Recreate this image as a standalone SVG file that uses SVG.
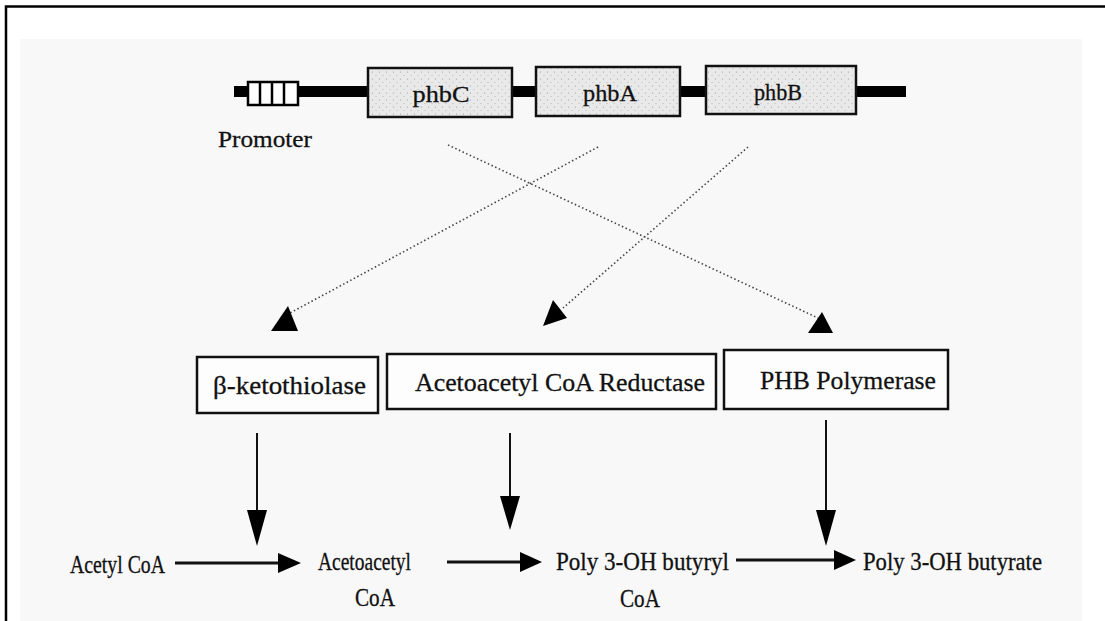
<svg xmlns="http://www.w3.org/2000/svg" width="1105" height="621" viewBox="0 0 1105 621">
  <style>
    .txt { font-family: "Liberation Serif", "Times New Roman", serif; fill: #111; stroke: #111; stroke-width: 0.3; }
    .gene { stroke: #111; stroke-width: 2.5; }
    .enz { fill: #fdfdfd; stroke: #111; stroke-width: 2.5; }
    .dot { fill: none; stroke: #444; stroke-width: 1.6; stroke-dasharray: 1.5 2.5; }
    .solid { fill: none; stroke: #111; }
    .head { fill: #000; }
  </style>
  <defs>
    <pattern id="stipple" width="7" height="7" patternUnits="userSpaceOnUse">
      <rect width="7" height="7" fill="#e9e9e9"/>
      <circle cx="1.5" cy="2" r="0.6" fill="#9a9a9a"/>
      <circle cx="5" cy="5.5" r="0.5" fill="#aaaaaa"/>
    </pattern>
  </defs>

  <!-- page and frame -->
  <rect width="1105" height="621" fill="#ffffff"/>
  <rect x="20" y="39" width="1062" height="582" fill="#f8f8f8"/>
  <path d="M6 621 V6.5 H1105" fill="none" stroke="#000" stroke-width="2.5"/>

  <!-- operon backbone -->
  <g id="operon">
    <rect x="234" y="86" width="672" height="11" fill="#000"/>
    <g id="promoter">
      <rect x="248" y="82" width="50" height="23" fill="#fff" stroke="#000" stroke-width="2.5"/>
      <line x1="260" y1="82" x2="260" y2="105" stroke="#000" stroke-width="2.5"/>
      <line x1="272" y1="82" x2="272" y2="105" stroke="#000" stroke-width="2.5"/>
      <line x1="284" y1="82" x2="284" y2="105" stroke="#000" stroke-width="2.5"/>
      <text class="txt" x="218" y="147" font-size="24" textLength="94" lengthAdjust="spacingAndGlyphs">Promoter</text>
    </g>
  </g>

  <g id="phbC">
    <rect class="gene" x="368" y="68" width="144" height="49" fill="url(#stipple)"/>
    <text class="txt" x="441" y="102" font-size="24" text-anchor="middle" textLength="57" lengthAdjust="spacingAndGlyphs">phbC</text>
  </g>
  <g id="phbA">
    <rect class="gene" x="536" y="67" width="144" height="49" fill="url(#stipple)"/>
    <text class="txt" x="610" y="101" font-size="24" text-anchor="middle" textLength="54" lengthAdjust="spacingAndGlyphs">phbA</text>
  </g>
  <g id="phbB">
    <rect class="gene" x="706" y="66" width="150" height="48" fill="url(#stipple)"/>
    <text class="txt" x="778" y="100" font-size="24" text-anchor="middle" textLength="48" lengthAdjust="spacingAndGlyphs">phbB</text>
  </g>

  <!-- enzymes -->
  <g id="ketothiolase">
    <rect class="enz" x="197" y="357" width="181" height="56"/>
    <text class="txt" x="213" y="394" font-size="26" textLength="153" lengthAdjust="spacingAndGlyphs">β-ketothiolase</text>
  </g>
  <g id="reductase">
    <rect class="enz" x="387" y="354" width="329" height="55"/>
    <text class="txt" x="415" y="391" font-size="26" textLength="290" lengthAdjust="spacingAndGlyphs">Acetoacetyl CoA Reductase</text>
  </g>
  <g id="polymerase">
    <rect class="enz" x="724" y="350" width="224" height="59"/>
    <text class="txt" x="760" y="389" font-size="26" textLength="176" lengthAdjust="spacingAndGlyphs">PHB Polymerase</text>
  </g>

  <!-- metabolites -->
  <g id="acetylcoa">
    <text class="txt" x="70" y="573" font-size="25" textLength="95" lengthAdjust="spacingAndGlyphs">Acetyl CoA</text>
  </g>
  <g id="acetoacetylcoa">
    <text class="txt" x="318" y="570" font-size="25" textLength="93" lengthAdjust="spacingAndGlyphs">Acetoacetyl</text>
    <text class="txt" x="355" y="606" font-size="25" textLength="40" lengthAdjust="spacingAndGlyphs">CoA</text>
  </g>
  <g id="butyrylcoa">
    <text class="txt" x="556" y="570" font-size="25" textLength="173" lengthAdjust="spacingAndGlyphs">Poly 3-OH butyryl</text>
    <text class="txt" x="620" y="607" font-size="25" textLength="40" lengthAdjust="spacingAndGlyphs">CoA</text>
  </g>
  <g id="butyrate">
    <text class="txt" x="863" y="570" font-size="25" textLength="179" lengthAdjust="spacingAndGlyphs">Poly 3-OH butyrate</text>
  </g>

  <!-- connectors -->
  <g id="connectors">
    <!-- gene to enzyme, dotted -->
    <line class="dot" x1="448" y1="145" x2="818" y2="318"/>
    <polygon class="head" points="808,333 833,333 822,312"/>
    <line class="dot" x1="598" y1="147" x2="290" y2="313"/>
    <polygon class="head" points="271,331 298,331 288,306"/>
    <line class="dot" x1="748" y1="147" x2="563" y2="308"/>
    <polygon class="head" points="543,326 567,318 553,300"/>

    <!-- enzyme to reaction -->
    <line class="solid" stroke-width="2" x1="257" y1="433" x2="257" y2="515"/>
    <polygon class="head" points="247,510 267,510 257,546"/>
    <line class="solid" stroke-width="2" x1="510" y1="433" x2="510" y2="500"/>
    <polygon class="head" points="500,496 520,496 510,530"/>
    <line class="solid" stroke-width="2" x1="826" y1="420" x2="826" y2="515"/>
    <polygon class="head" points="816,510 836,510 826,546"/>

    <!-- pathway steps -->
    <line class="solid" stroke-width="3" x1="175" y1="563" x2="282" y2="563"/>
    <polygon class="head" points="278,553 278,573 301,563"/>
    <line class="solid" stroke-width="3" x1="447" y1="562" x2="524" y2="562"/>
    <polygon class="head" points="520,552 520,572 542,562"/>
    <line class="solid" stroke-width="3" x1="736" y1="560" x2="838" y2="560"/>
    <polygon class="head" points="834,550 834,570 856,560"/>
  </g>
</svg>
